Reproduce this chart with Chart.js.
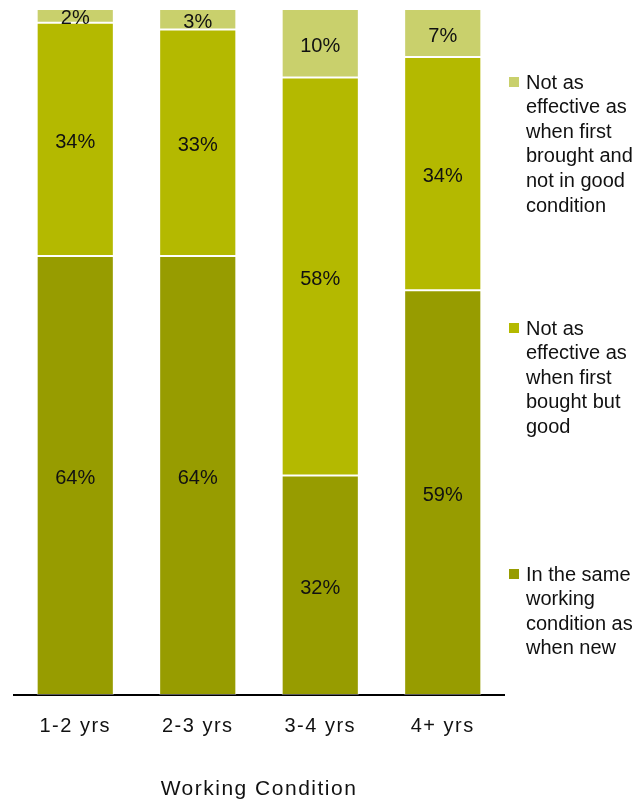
<!DOCTYPE html>
<html>
<head>
<meta charset="utf-8">
<script src="https://cdn.jsdelivr.net/npm/chart.js@4/dist/chart.umd.min.js"></script>
<style>
  html, body { margin: 0; padding: 0; background: #fff; }
  #wrap { width: 641px; height: 804px; }
</style>
</head>
<body>
<div id="wrap"><canvas id="c" width="641" height="804"></canvas></div>
<script>
// Age groups along the x axis
const categories = ['1-2 yrs', '2-3 yrs', '3-4 yrs', '4+ yrs'];
// Share of respondents (%) per condition, bottom to top of each stack
const sameAsNew = [64, 64, 32, 59];
const lessEffectiveGood = [34, 33, 58, 34];
const lessEffectivePoor = [2, 3, 10, 7];
const seriesNames = [
  'In the same working condition as when new',
  'Not as effective as when first bought but good',
  'Not as effective as when first brought and not in good condition'
];
const seriesColors = ['#979c00', '#b4b900', '#c9d06c'];
const axisTitle = 'Working Condition';

const FONT = '"Liberation Sans", Arial, Helvetica, sans-serif';

// Slightly widened lettering for axis text, normal for everything else
const letterSpacingPlugin = {
  id: 'letterSpacing',
  beforeDraw(chart) { chart.ctx.letterSpacing = '1.5px'; },
  beforeDatasetsDraw(chart) { chart.ctx.letterSpacing = '0px'; }
};

// Percentage label centred in every stacked segment
const segmentLabels = {
  id: 'segmentLabels',
  afterDatasetsDraw(chart) {
    const ctx = chart.ctx;
    ctx.save();
    ctx.letterSpacing = '0px';
    ctx.font = '20px ' + FONT;
    ctx.fillStyle = '#111';
    ctx.textAlign = 'center';
    ctx.textBaseline = 'middle';
    chart.data.datasets.forEach((ds, di) => {
      const meta = chart.getDatasetMeta(di);
      meta.data.forEach((bar, i) => {
        const v = ds.data[i];
        const cy = (bar.y + bar.base) / 2;
        ctx.fillText(v + '%', bar.x, cy + 3);
      });
    });
    ctx.restore();
  }
};

// Right-hand legend: one wrapped entry per series, top series first
const sideLegend = {
  id: 'sideLegend',
  afterDraw(chart) {
    const ctx = chart.ctx;
    const x0 = 509, textX = 526, maxW = 114, lineH = 24.6;
    const firstY = 82, gap = 246;
    ctx.save();
    ctx.letterSpacing = '0px';
    ctx.font = '20px ' + FONT;
    ctx.textAlign = 'left';
    ctx.textBaseline = 'middle';
    const ds = chart.data.datasets.slice().reverse();
    ds.forEach((d, k) => {
      const words = d.label.split(' ');
      const lines = [];
      let cur = '';
      words.forEach(w => {
        const t = cur ? cur + ' ' + w : w;
        if (ctx.measureText(t).width > maxW && cur) { lines.push(cur); cur = w; }
        else cur = t;
      });
      if (cur) lines.push(cur);
      const y = firstY + k * gap;
      ctx.fillStyle = d.backgroundColor;
      ctx.fillRect(x0, y - 5, 10, 10);
      ctx.fillStyle = '#111';
      lines.forEach((ln, j) => ctx.fillText(ln, textX, y + 1 + j * lineH));
    });
    ctx.restore();
  }
};

const datasets = [sameAsNew, lessEffectiveGood, lessEffectivePoor].map((vals, i) => ({
  label: seriesNames[i],
  data: vals,
  backgroundColor: seriesColors[i],
  borderColor: 'rgba(255,255,255,0.35)',
  borderWidth: 1,
  borderSkipped: false,
  categoryPercentage: 1,
  barPercentage: 0.63
}));

new Chart(document.getElementById('c'), {
  type: 'bar',
  data: { labels: categories, datasets },
  options: {
    responsive: false,
    animation: false,
    devicePixelRatio: 1,
    layout: { padding: { left: 14, right: 137, top: 9, bottom: 0 } },
    plugins: { legend: { display: false }, tooltip: { enabled: false } },
    scales: {
      x: {
        stacked: true,
        grid: { display: false, drawTicks: false },
        border: { display: true, color: '#000', width: 2 },
        ticks: { color: '#111', font: { family: FONT, size: 20 }, padding: 19 },
        title: {
          display: true, text: axisTitle, color: '#111',
          font: { family: FONT, size: 21 }, padding: { top: 0, bottom: 2 }
        },
        afterFit(scale) { scale.height = 109; }
      },
      y: { stacked: true, min: 0, max: 100, display: false }
    }
  },
  plugins: [letterSpacingPlugin, segmentLabels, sideLegend]
});
</script>
</body>
</html>
